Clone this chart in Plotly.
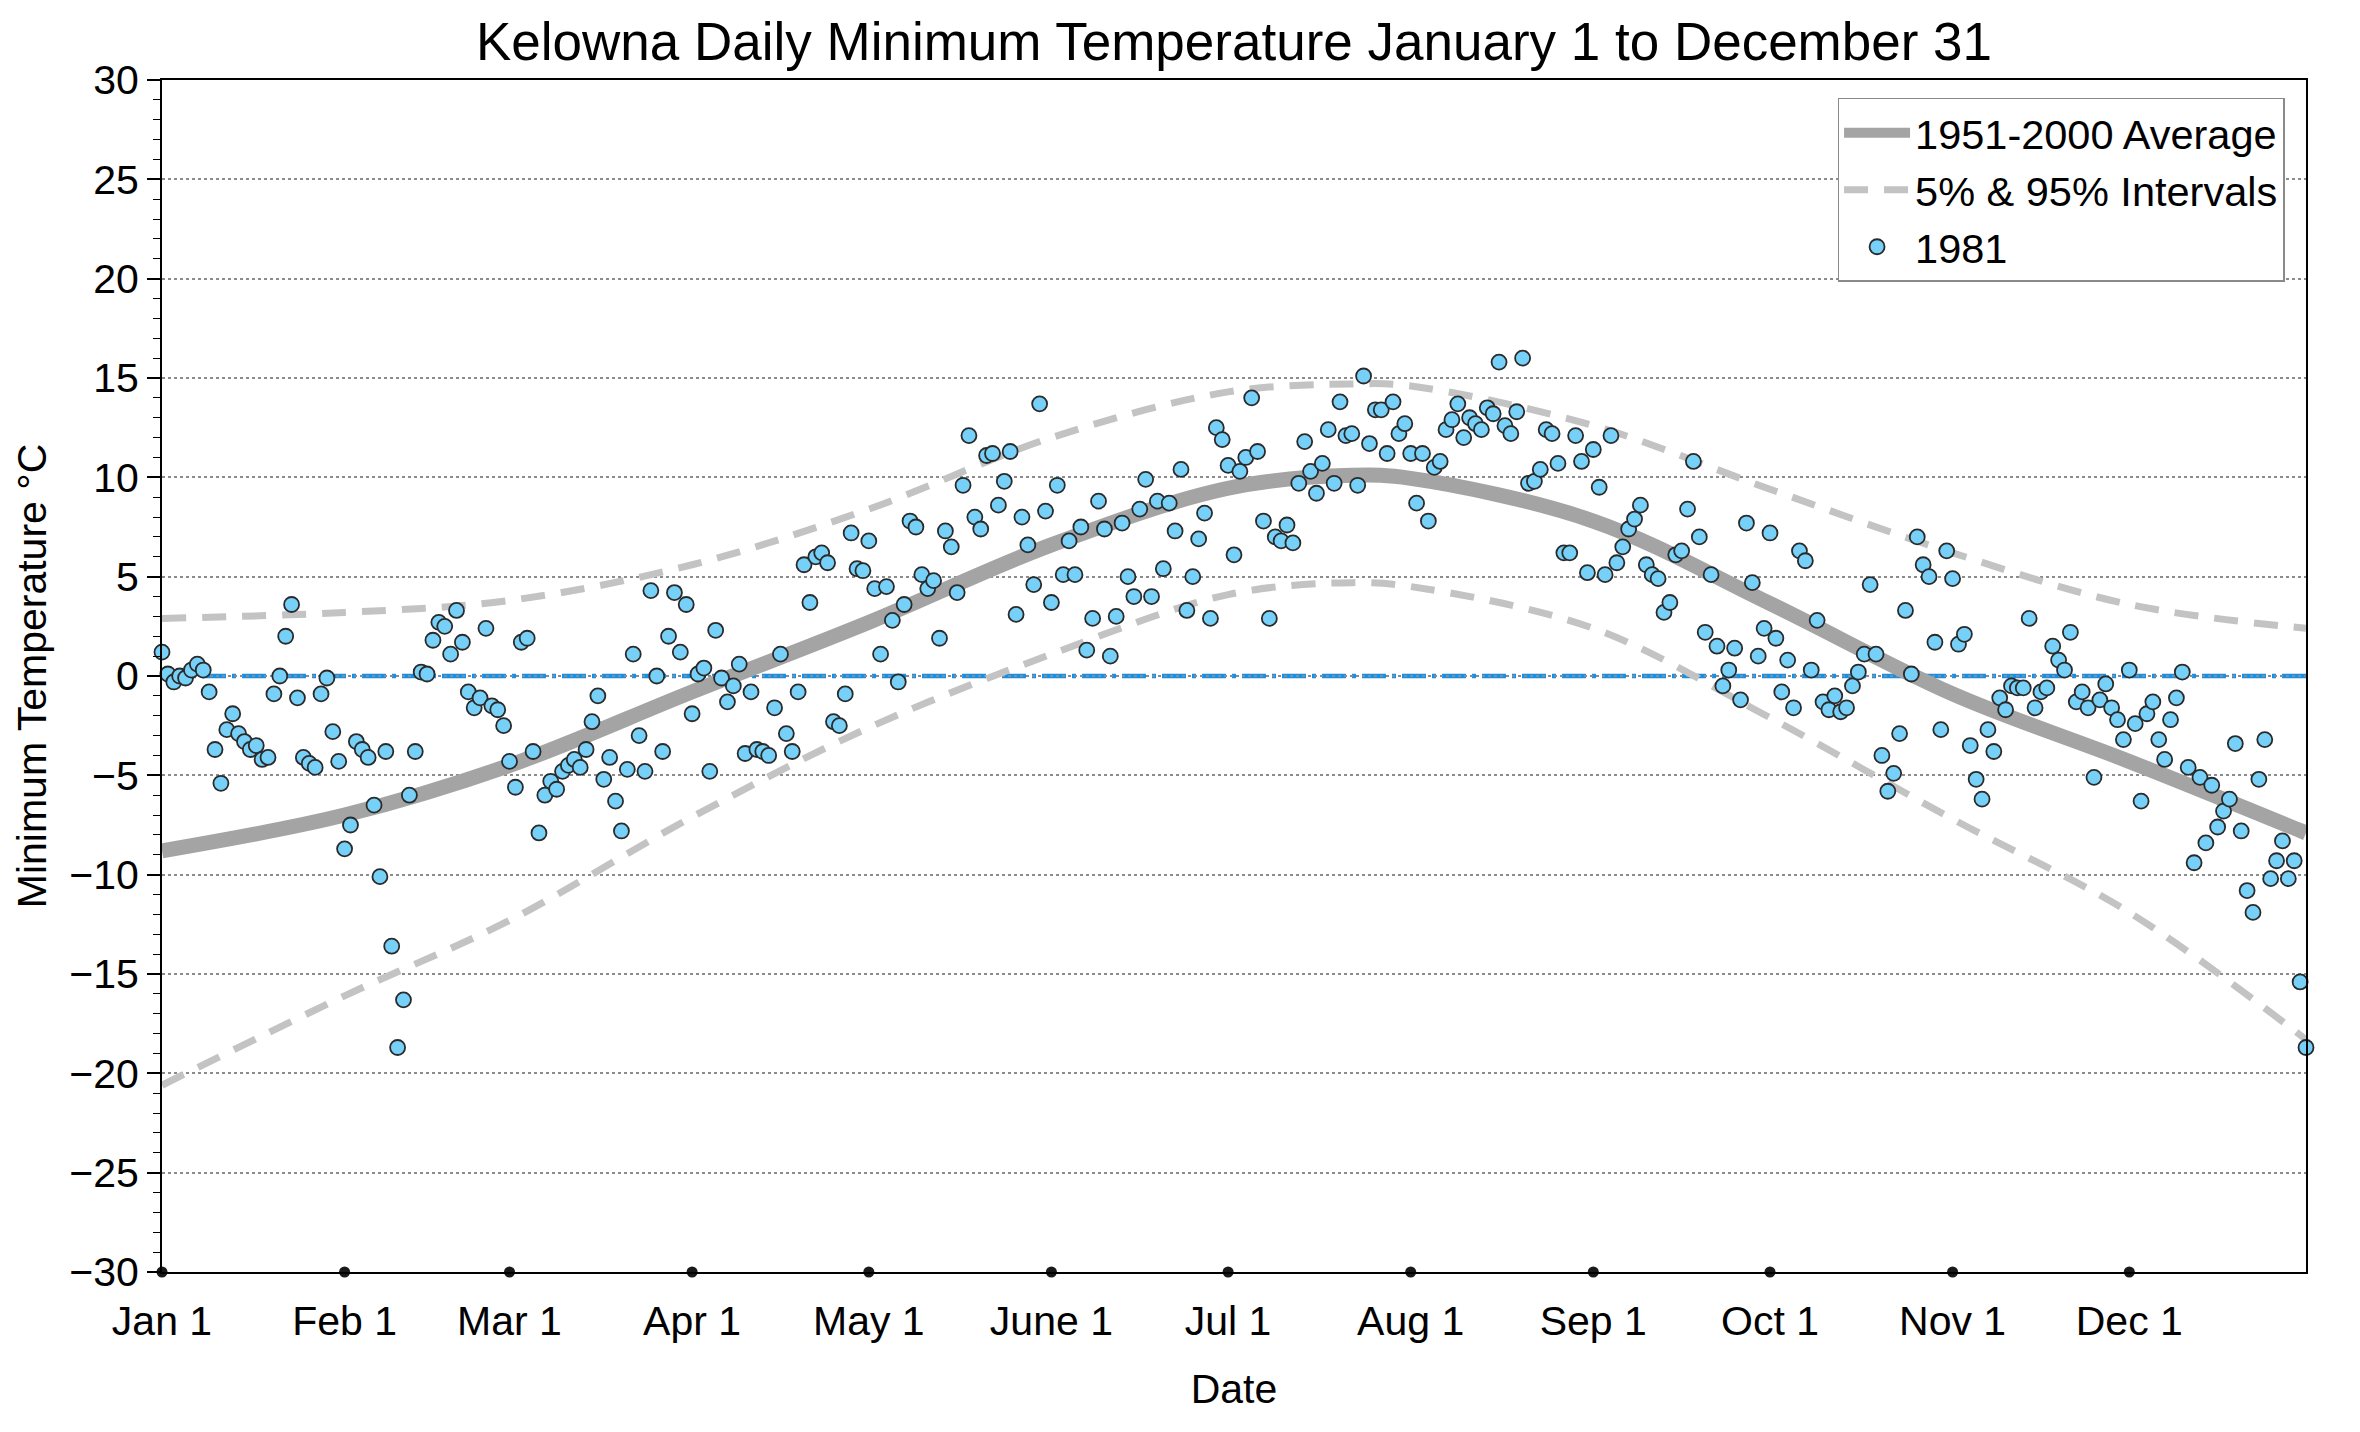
import pandas as pd
import plotly.graph_objects as go

# 1981 daily minimum temperatures (deg C), one list per month
jan = [1.2, 0.1, -0.3, 0.0, -0.1, 0.3, 0.6, 0.3, -0.8, -3.7, -5.4, -2.7, -1.9, -2.9, -3.3, -3.7,
       -3.5, -4.2, -4.1, -0.9, 0.0, 2.0, 3.6, -1.1, -4.1, -4.4, -4.6, -0.9, -0.1, -2.8, -4.3]
feb = [-8.7, -7.5, -3.3, -3.7, -4.1, -6.5, -10.1, -3.8, -13.6, -18.7, -16.3, -6.0, -3.8, 0.2,
       0.1, 1.8, 2.7, 2.5, 1.1, 3.3, 1.7, -0.8, -1.6, -1.1, 2.4, -1.5, -1.7, -2.5]
mar = [-4.3, -5.6, 1.7, 1.9, -3.8, -7.9, -6.0, -5.3, -5.7, -4.8, -4.5, -4.2, -4.6, -3.7, -2.3,
       -1.0, -5.2, -4.1, -6.3, -7.8, -4.7, 1.1, -3.0, -4.8, 4.3, 0.0, -3.8, 2.0, 4.2, 1.2, 3.6]
apr = [-1.9, 0.1, 0.4, -4.8, 2.3, -0.1, -1.3, -0.5, 0.6, -3.9, -0.8, -3.7, -3.8, -4.0, -1.6,
       1.1, -2.9, -3.8, -0.8, 5.6, 3.7, 6.0, 6.2, 5.7, -2.3, -2.5, -0.9, 7.2, 5.4, 5.3]
may = [6.8, 4.4, 1.1, 4.5, 2.8, -0.3, 3.6, 7.8, 7.5, 5.1, 4.4, 4.8, 1.9, 7.3, 6.5, 4.2, 9.6,
       12.1, 8.0, 7.4, 11.1, 11.2, 8.6, 9.8, 11.3, 3.1, 8.0, 6.6, 4.6, 13.7, 8.3]
jun = [3.7, 9.6, 5.1, 6.8, 5.1, 7.5, 1.3, 2.9, 8.8, 7.4, 1.0, 3.0, 7.7, 5.0, 4.0, 8.4, 9.9,
       4.0, 8.8, 5.4, 8.7, 7.3, 10.4, 3.3, 5.0, 6.9, 8.2, 2.9, 12.5, 11.9]
jul = [10.6, 6.1, 10.3, 11.0, 14.0, 11.3, 7.8, 2.9, 7.0, 6.8, 7.6, 6.7, 9.7, 11.8, 10.3, 9.2,
       10.7, 12.4, 9.7, 13.8, 12.1, 12.2, 9.6, 15.1, 11.7, 13.4, 13.4, 11.2, 13.8, 12.2, 12.7]
aug = [11.2, 8.7, 11.2, 7.8, 10.5, 10.8, 12.4, 12.9, 13.7, 12.0, 13.0, 12.7, 12.4, 13.5, 13.2,
       15.8, 12.6, 12.2, 13.3, 16.0, 9.7, 9.8, 10.4, 12.4, 12.2, 10.7, 6.2, 6.2, 12.1, 10.8, 5.2]
sep = [11.4, 9.5, 5.1, 12.1, 5.7, 6.5, 7.4, 7.9, 8.6, 5.6, 5.1, 4.9, 3.2, 3.7, 6.1, 6.3, 8.4,
       10.8, 7.0, 2.2, 5.1, 1.5, -0.5, 0.3, 1.4, -1.2, 7.7, 4.7, 1.0, 2.4]
oct = [7.2, 1.9, -0.8, 0.8, -1.6, 6.3, 5.8, 0.3, 2.8, -1.3, -1.7, -1.0, -1.8, -1.6, -0.5, 0.2,
       1.1, 4.6, 1.1, -4.0, -5.8, -4.9, -2.9, 3.3, 0.1, 7.0, 5.6, 5.0, 1.7, -2.7, 6.3]
nov = [4.9, 1.6, 2.1, -3.5, -5.2, -6.2, -2.7, -3.8, -1.1, -1.7, -0.5, -0.6, -0.6, 2.9, -1.6,
       -0.8, -0.6, 1.5, 0.8, 0.3, 2.2, -1.3, -0.8, -1.6, -5.1, -1.2, -0.4, -1.6, -2.2, -3.2]
dec = [0.3, -2.4, -6.3, -1.9, -1.3, -3.2, -4.2, -2.2, -1.1, 0.2, -4.6, -9.4, -5.1, -8.4, -5.5,
       -7.6, -6.8, -6.2, -3.4, -7.8, -10.8, -11.9, -5.2, -3.2, -10.2, -9.3, -8.3, -10.2, -9.3,
       -15.4, -18.7]

# 1951-2000 climatology, read at the start of each month (plus the summer peak)
curve_dates = ["1981-01-01", "1981-02-01", "1981-03-01", "1981-04-01", "1981-05-01",
               "1981-06-01", "1981-07-01", "1981-07-22", "1981-08-01", "1981-09-01",
               "1981-10-01", "1981-11-01", "1981-12-01", "1981-12-31"]
avg_vals = [-8.8, -7.0, -4.5, -0.8, 2.7, 6.6, 9.45, 10.1, 9.95, 7.8, 3.65, -0.9, -4.3, -7.9]
p95_vals = [2.9, 3.2, 3.8, 5.6, 8.4, 12.0, 14.3, 14.7, 14.6, 12.6, 9.4, 6.2, 3.6, 2.4]
p05_vals = [-20.6, -16.1, -12.3, -7.1, -2.6, 1.1, 4.1, 4.7, 4.5, 2.4, -2.1, -7.2, -11.9, -18.3]

tick_dates = ["1981-01-01", "1981-02-01", "1981-03-01", "1981-04-01", "1981-05-01",
              "1981-06-01", "1981-07-01", "1981-08-01", "1981-09-01", "1981-10-01",
              "1981-11-01", "1981-12-01"]
tick_labels = ["Jan 1", "Feb 1", "Mar 1", "Apr 1", "May 1", "June 1", "Jul 1", "Aug 1",
               "Sep 1", "Oct 1", "Nov 1", "Dec 1"]

y_min, y_max = -30, 30

days = pd.date_range("1981-01-01", "1981-12-31", freq="D")
tmin = jan + feb + mar + apr + may + jun + jul + aug + sep + oct + nov + dec

FONT = "Liberation Sans, Arial, Helvetica, sans-serif"

fig = go.Figure()

fig.add_trace(go.Scatter(x=curve_dates, y=avg_vals, mode="lines", line_shape="spline",
                         name="1951-2000 Average",
                         line=dict(color="#A4A4A4", width=15)))
fig.add_trace(go.Scatter(x=curve_dates, y=p95_vals, mode="lines", line_shape="spline",
                         name="5% & 95% Intervals", legendgroup="pct",
                         line=dict(color="#C3C3C3", width=7, dash="24px,16px")))
fig.add_trace(go.Scatter(x=curve_dates, y=p05_vals, mode="lines", line_shape="spline",
                         name="5%", legendgroup="pct", showlegend=False,
                         line=dict(color="#C3C3C3", width=7, dash="24px,16px")))
fig.add_trace(go.Scatter(x=days, y=tmin, mode="markers", name="1981", cliponaxis=False,
                         marker=dict(size=15, color="#76D0F8",
                                     line=dict(color="#2A2A2A", width=1.8))))

# month ticks on the date axis are drawn as small dots
fig.add_trace(go.Scatter(x=tick_dates, y=[y_min] * len(tick_dates), mode="markers",
                         showlegend=False, cliponaxis=False, hoverinfo="skip",
                         marker=dict(size=11, color="#1A1A1A")))

fig.add_hline(y=0, layer="below",
              line=dict(color="#1590E8", width=4.5, dash="24px,6px,4px,6px"))

fig.update_layout(
    width=2360, height=1432,
    paper_bgcolor="white", plot_bgcolor="white",
    margin=dict(l=154, r=62, t=72, b=168),
    font=dict(family=FONT, size=41, color="black"),
    title=dict(text="Kelowna Daily Minimum Temperature January 1 to December 31",
               x=0.5, xanchor="center", xref="paper",
               y=1 - 33 / 1432, yref="container", yanchor="middle",
               font=dict(size=53)),
    legend=dict(x=0.99, xanchor="right", y=0.985, yanchor="top",
                bgcolor="white", bordercolor="#8A8A8A", borderwidth=1.5,
                itemwidth=66, tracegroupgap=0, font=dict(size=41.5)),
    showlegend=True,
)

fig.update_xaxes(
    type="date", range=["1981-01-01", "1981-12-31"],
    tickvals=tick_dates, ticktext=tick_labels, ticks="", ticklabelstandoff=12,
    showgrid=False, zeroline=False, automargin=False,
    showline=True, linecolor="black", linewidth=2, mirror=True,
    title=dict(text="Date", standoff=31, font=dict(size=41)),
)

fig.update_yaxes(
    range=[y_min, y_max], dtick=5, tick0=0,
    ticks="outside", ticklen=13, tickwidth=1.6, tickcolor="black",
    minor=dict(dtick=1, ticks="outside", ticklen=7, tickwidth=1.3, tickcolor="black",
               showgrid=False),
    showgrid=True, gridcolor="#8C8C8C", griddash="dot", gridwidth=1.5,
    zeroline=False, automargin=False,
    showline=True, linecolor="black", linewidth=2, mirror=True,
    title=dict(text="Minimum Temperature °C", standoff=10, font=dict(size=41)),
)

fig.write_html("out.html")
